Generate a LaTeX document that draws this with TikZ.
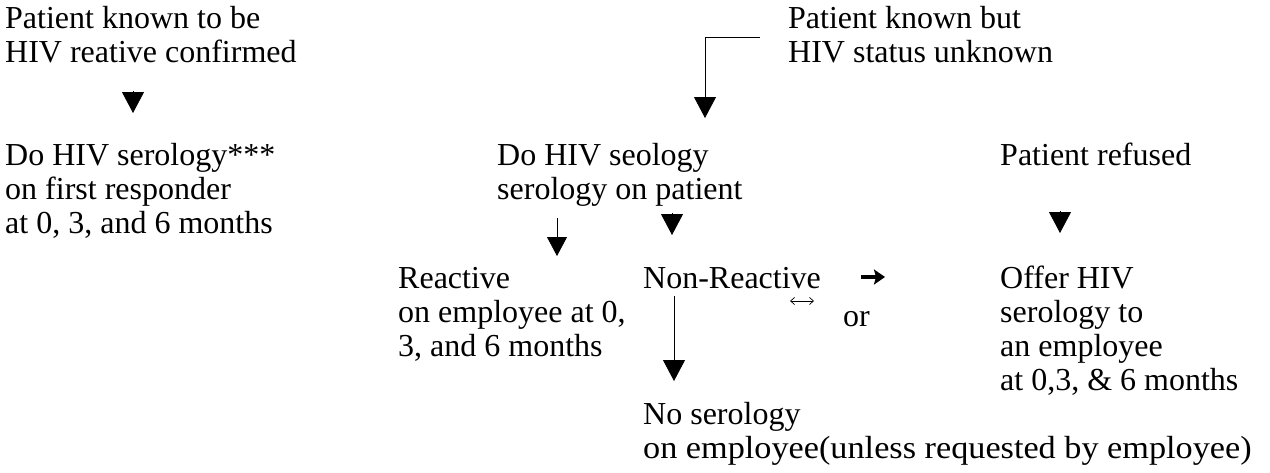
\documentclass[tikz,border=0pt]{standalone}
\usepackage{fontspec}
\setmainfont{Liberation Serif}
\usetikzlibrary{arrows.meta}
\tikzset{
  txt/.style={anchor=base west, inner sep=0pt, align=left, font=\fontsize{32}{34}\selectfont},
  tri/.style={line width=0.8pt, -{Triangle[length=21pt,width=22pt]}},
  smalltri/.style={line width=0.8pt, -{Triangle[length=19pt,width=20pt]}},
}
\begin{document}
\begin{tikzpicture}[x=1pt,y=-1pt]
\useasboundingbox (0,0) rectangle (1270,472);
% texts (anchor = baseline of the last line)
\node[txt] (a1) at (5,62) {Patient known to be\\HIV reative confirmed};
\node[txt] (a2) at (5,233) {Do HIV serology***\\on first responder\\at 0, 3, and 6 months};
\node[txt] (b1) at (788,62) {Patient known but\\HIV status unknown};
\node[txt] (c1) at (497,199) {Do HIV seology\\serology on patient};
\node[txt] (r1) at (1000,165) {Patient refused};
\node[txt] (re) at (398,356) {Reactive\\on employee at 0,\\3, and 6 months};
\node[txt] (nr) at (643,288) {Non-Reactive};
\node[txt] (of) at (1000,390) {Offer HIV\\serology to\\an employee\\at 0,3, \& 6 months};
\node[txt] (or) at (843,326) {or};
\node[txt] (ns) at (643,458) {No serology\\{\addfontfeature{FakeStretch=1.07}on employee(unless requested by employee)}};
% arrow coordinates
\coordinate (ta0) at (133,91);
\coordinate (ta1) at (133,113);
\coordinate (bk0) at (760,37);
\coordinate (bk1) at (705,118);
\coordinate (tc0) at (672,213);
\coordinate (tc1) at (672,235);
\coordinate (tr0) at (1060,211);
\coordinate (tr1) at (1060,233);
\coordinate (ts0) at (557,218);
\coordinate (ts1) at (557,256);
\coordinate (tn0) at (674,296);
\coordinate (tn1) at (674,381);
\coordinate (h0) at (861,277);
\coordinate (h1) at (885,277);
\coordinate (d0) at (790,301);
\coordinate (d1) at (814,301);
% connectors
\draw[tri] (ta0) -- (ta1);
\draw[tri] (bk0) -| (bk1);
\draw[tri] (tc0) -- (tc1);
\draw[tri] (tr0) -- (tr1);
\draw[smalltri] (ts0) -- (ts1);
\draw[tri] (tn0) -- (tn1);
\draw[line width=3.6pt, -{Stealth[length=11pt,width=15pt,inset=2pt]}] (h0) -- (h1);
\draw[line width=0.7pt, {Straight Barb[length=4pt,width=7pt]}-{Straight Barb[length=4pt,width=7pt]}] (d0) -- (d1);
\end{tikzpicture}
\end{document}
